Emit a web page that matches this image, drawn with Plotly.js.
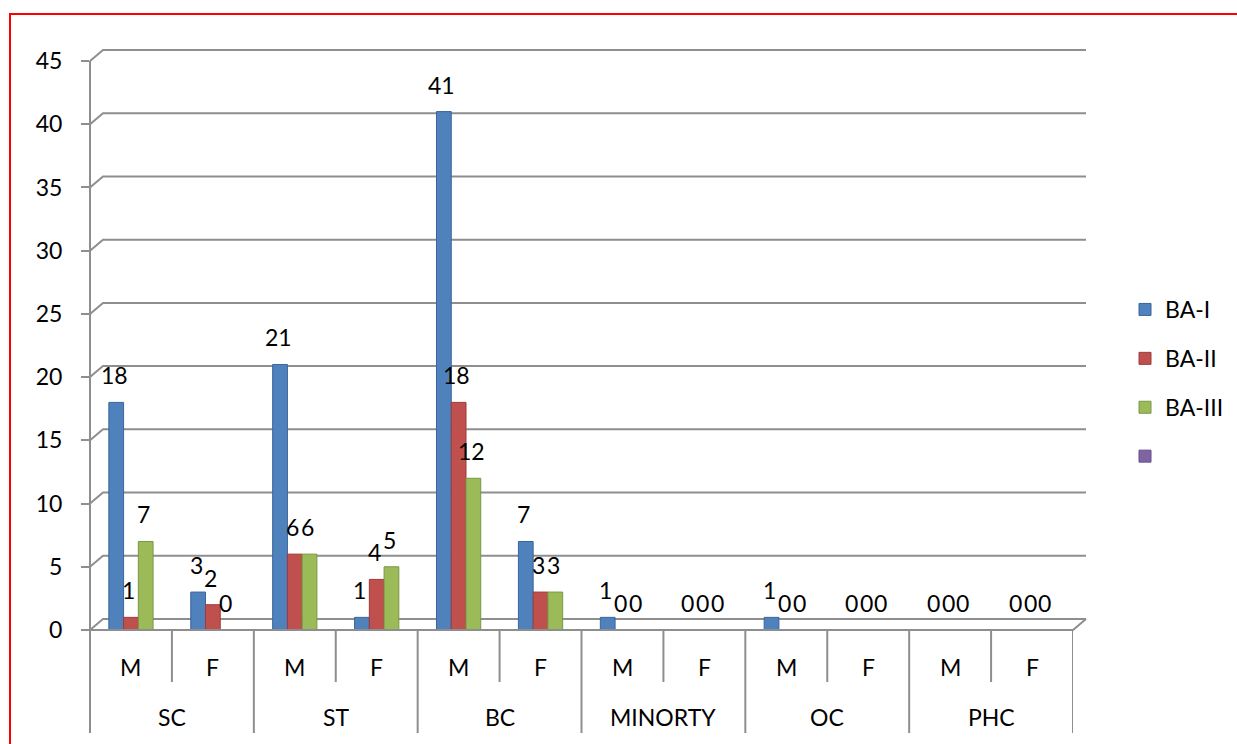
<!DOCTYPE html>
<html><head><meta charset="utf-8">
<script src="https://cdn.plot.ly/plotly-3.0.1.min.js"></script>
<style>html,body{margin:0;padding:0;background:#fff}</style></head>
<body>
<div id="chart" style="width:1237px;height:744px"></div>
<script>
// ---- data ----
const groups = ['SC', 'ST', 'BC', 'MINORTY', 'OC', 'PHC'];
const subs = ['M', 'F'];
const seriesNames = ['BA-I', 'BA-II', 'BA-III', ''];
const baI   = [18, 3, 21, 1, 41, 7, 1, 0, 1, 0, 0, 0];
const baII  = [1, 2, 6, 4, 18, 3, 0, 0, 0, 0, 0, 0];
const baIII = [7, 0, 6, 5, 12, 3, 0, 0, 0, 0, 0, 0];
const series4 = [null, null, null, null, null, null, null, null, null, null, null, null];
const yTicks = [0, 5, 10, 15, 20, 25, 30, 35, 40, 45];

// ---- styling ----
const colors = ['#4F81BD', '#C0504D', '#9BBB59', '#8064A2'];
const edgeColors = ['#3A659A', '#9B3C3A', '#7A9644', '#64508A'];
const FONT = 'Lato, "Open Sans", sans-serif';
const FS = 23;
const barW = 0.18;
const offsets = [-0.27, -0.09, 0.09, 0.27];
const gridColor = '#8e8e8e';

// plot area in pixels
const L = 90, R = 1073, T = 61, B = 630, W = 1237, H = 744;
const px = x => (x - L) / (R - L);
const py = y => (B - y) / (B - T);
const yMax = 45;
const vy = v => B - v * (B - T) / yMax; // value -> pixel y
const dX = 13, dY = 11; // 3D depth offset

const groupCol = groups.flatMap(g => subs.map(() => g));
const subCol = groups.flatMap(() => subs);
const allSeries = [baI, baII, baIII, series4];

const traces = allSeries.map((vals, s) => ({
  type: 'bar',
  x: [groupCol, subCol],
  y: vals,
  name: seriesNames[s],
  width: barW,
  offset: offsets[s],
  marker: {color: colors[s], line: {width: 1, color: edgeColors[s]}},
  legendgroup: 'g' + s,
  hoverinfo: 'y'
}));

const shapes = [];
// back-wall gridlines with depth
yTicks.forEach(v => {
  const y0 = vy(v);
  shapes.push({type: 'path', xref: 'paper', yref: 'paper', layer: 'below',
    path: `M${px(L)},${py(y0)} L${px(L + dX)},${py(y0 - dY)} L${px(R + dX)},${py(y0 - dY)}`,
    line: {color: gridColor, width: 2}});
});
// floor front edge + right diagonal
shapes.push({type: 'path', xref: 'paper', yref: 'paper', layer: 'above',
  path: `M${px(L)},${py(B)} L${px(R)},${py(B)} L${px(R + dX)},${py(B - dY)}`,
  line: {color: gridColor, width: 2}});
// vertical value axis (extends down through label rows)
shapes.push({type: 'line', xref: 'paper', yref: 'paper', x0: px(L), x1: px(L), y0: py(T), y1: py(733),
  line: {color: gridColor, width: 2}});
// category separators
const nCat = groupCol.length;
for (let i = 1; i <= nCat; i++) {
  const isGroup = i % subs.length === 0;
  shapes.push({type: 'line', xref: 'x', yref: 'paper', x0: i - 0.5, x1: i - 0.5,
    y0: py(B), y1: py(isGroup ? 733 : 682), line: {color: gridColor, width: 2}});
}
// red outer border
shapes.push({type: 'rect', xref: 'paper', yref: 'paper', x0: px(10), x1: px(W + 20), y0: py(H + 20), y1: py(14),
  line: {color: '#FF0000', width: 2}, fillcolor: 'rgba(0,0,0,0)'});

const annotations = [];
// data labels
allSeries.forEach((vals, s) => {
  vals.forEach((v, i) => {
    if (v === null) return;
    annotations.push({xref: 'x', yref: 'y', x: i + offsets[s] + barW / 2, y: v,
      text: String(v), showarrow: false, yanchor: 'middle', xanchor: 'center',
      yshift: 27, xshift: -2, font: {family: FONT, size: FS, color: '#000'}});
  });
});
// category labels
subCol.forEach((s, i) => {
  annotations.push({xref: 'x', yref: 'paper', x: i, y: py(667), text: s, showarrow: false,
    yanchor: 'middle', font: {family: FONT, size: FS, color: '#000'}});
});
groups.forEach((g, k) => {
  annotations.push({xref: 'x', yref: 'paper', x: k * subs.length + (subs.length - 1) / 2, y: py(717), text: g,
    showarrow: false, yanchor: 'middle', font: {family: FONT, size: FS, color: '#000'}});
});

const layout = {
  width: W, height: H,
  margin: {l: L, r: W - R, t: T, b: H - B, pad: 0},
  paper_bgcolor: '#fff', plot_bgcolor: 'rgba(0,0,0,0)',
  font: {family: FONT, size: FS, color: '#000'},
  barmode: 'group',
  showlegend: true,
  legend: {xref: 'container', yref: 'container', x: 1125 / W, xanchor: 'left',
    y: (H - 383) / H, yanchor: 'middle',
    traceorder: 'grouped', tracegroupgap: 16, font: {family: FONT, size: FS, color: '#000'},
    bgcolor: 'rgba(0,0,0,0)'},
  xaxis: {type: 'multicategory', showticklabels: false, ticks: '', showgrid: false,
    showline: false, zeroline: false, showdividers: false, range: [-0.5, nCat - 0.5], automargin: false},
  yaxis: {range: [0, yMax], tickvals: yTicks, ticks: 'outside', ticklen: 8, tickwidth: 2,
    tickcolor: gridColor, ticklabelstandoff: 14, showgrid: false, zeroline: false, showline: false,
    automargin: false, tickfont: {family: FONT, size: FS, color: '#000'}},
  shapes: shapes,
  annotations: annotations
};

Plotly.newPlot('chart', traces, layout, {displayModeBar: false, staticPlot: true});
</script>
</body></html>
